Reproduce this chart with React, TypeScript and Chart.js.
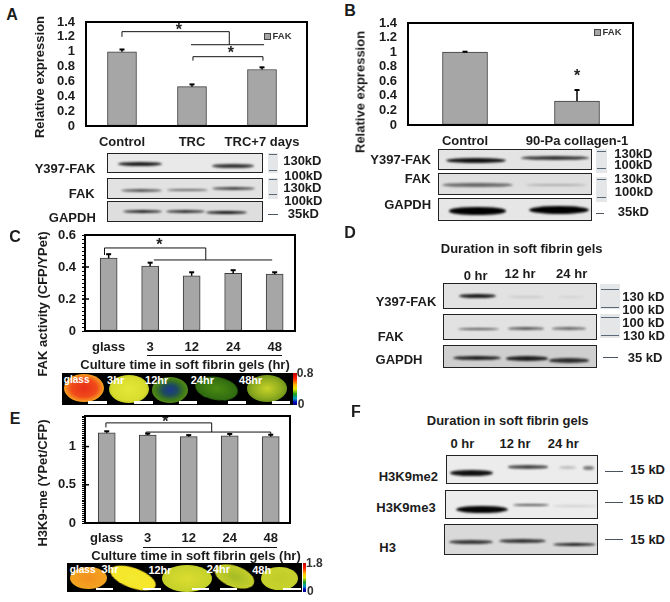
import React, { useEffect, useRef } from "react";
import { Chart, registerables } from "chart.js";

Chart.register(...registerables);

const FONT = '"Liberation Sans", Arial, sans-serif';
const INK = "#1c1c1c";

// ---------- values ----------
const catA = ["Control", "TRC", "TRC+7 days"];
const valA = [1.0, 0.53, 0.76];
const errA = [0.03, 0.03, 0.03];

const catB = ["Control", "90-Pa collagen-1"];
const valB = [1.0, 0.33];
const errB = [0.006, 0.15];

const catC = ["glass", "3", "12", "24", "48"];
const valC = [0.455, 0.405, 0.345, 0.36, 0.355];
const errC = [0.025, 0.022, 0.022, 0.02, 0.012];

const catE = ["glass", "3", "12", "24", "48"];
const valE = [1.18, 1.15, 1.13, 1.14, 1.13];
const errE = [0.02, 0.02, 0.02, 0.025, 0.025];

type Pt = [number, number];
type ChartSpec = {
  cats: string[]; vals: number[]; errs: number[];
  xMin: number; xMax: number; yMax: number; step: number; major: number; minor: boolean;
  left: number; right: number; top: number; bottom: number; barW: number;
  tickPad: number; catPad: number; lines: Pt[][]; stars: Pt[];
};

const specs: ChartSpec[] = [
  {
    cats: catA, vals: valA, errs: errA, xMin: -0.514, xMax: 2.643, yMax: 1.4, step: 0.2, major: 0.2, minor: false,
    left: 86, right: 307, top: 22, bottom: 126, barW: 29, tickPad: 11, catPad: 9,
    lines: [
      [[0, 1.2], [0, 1.27], [1.533, 1.27], [1.533, 1.094]],
      [[0.986, 1.094], [2.03, 1.094]],
      [[1.014, 0.88], [1.014, 0.933], [2.014, 0.933], [2.014, 0.88]],
    ],
    stars: [[0.814, 1.32], [1.557, 1.01]],
  },
  {
    cats: catB, vals: valB, errs: errB, xMin: -0.509, xMax: 1.5, yMax: 1.4, step: 0.2, major: 0.2, minor: false,
    left: 408, right: 633, top: 23, bottom: 125, barW: 45, tickPad: 11, catPad: 9,
    lines: [], stars: [[1.0, 0.7]],
  },
  {
    cats: catC, vals: valC, errs: errC, xMin: -0.57, xMax: 4.49, yMax: 0.6, step: 0.025, major: 0.2, minor: true,
    left: 85, right: 295, top: 235, bottom: 331, barW: 17, tickPad: 6, catPad: 9,
    lines: [
      [[-0.1, 0.475], [-0.1, 0.519], [2.34, 0.519], [2.34, 0.444]],
      [[1.09, 0.444], [3.94, 0.444]],
    ],
    stars: [[1.22, 0.55]],
  },
  {
    cats: catE, vals: valE, errs: errE, xMin: -0.53, xMax: 4.47, yMax: 1.4, step: 0.025, major: 0.5, minor: true,
    left: 85, right: 290, top: 416, bottom: 523, barW: 17, tickPad: 6, catPad: 8,
    lines: [
      [[-0.02, 1.25], [-0.02, 1.31], [2.56, 1.31], [2.56, 1.19]],
      [[0.96, 1.16], [0.96, 1.19], [4.0, 1.19], [4.0, 1.16]],
    ],
    stars: [[1.43, 1.35]],
  },
];

// ---------- blot and micrograph panels, in 3x-crop coordinates ----------
type Band = [number, number, number, number, string];
type Box = { r: [number, number, number, number]; bg: string; bands: Band[] };
type Label = [string, number, number];
type Panel = {
  ox: number; oy: number; boxes: Box[];
  ladders: { r: [number, number, number, number]; ys: number[] }[];
  dashes: [number, number, number][];
  labels: Label[];
};

const panels: Panel[] = [
  {
    ox: 0, oy: 0,
    boxes: [
      { r: [320, 458, 790, 518], bg: "#e9e9e9", bands: [[350, 482, 488, 12, "#1a1a1a"], [632, 758, 495, 14, "#333"]] },
      { r: [320, 533, 790, 597], bg: "#e2e2e2", bands: [[360, 482, 570, 9, "#555"], [498, 622, 567, 8, "#666"], [632, 762, 563, 10, "#444"]] },
      { r: [320, 603, 790, 665], bg: "#dedede", bands: [[365, 482, 632, 9, "#222"], [495, 612, 632, 9, "#2a2a2a"], [615, 738, 635, 11, "#151515"]] },
    ],
    ladders: [
      { r: [805, 458, 835, 518], ys: [462, 510] },
      { r: [805, 533, 835, 597], ys: [538, 582] },
    ],
    dashes: [[805, 835, 642]],
    labels: [
      ["Y397-FAK", 195, 503], ["FAK", 245, 580], ["GAPDH", 217, 652],
      ["130kD", 907, 480], ["100kD", 910, 525], ["130kD", 907, 560], ["100kD", 910, 600], ["35kD", 910, 640],
    ],
  },
  {
    ox: 335, oy: 0,
    boxes: [
      { r: [310, 447, 772, 510], bg: "#e4e4e4", bands: [[330, 510, 478, 16, "#111"], [555, 760, 472, 12, "#333"]] },
      { r: [310, 520, 772, 585], bg: "#dfdfdf", bands: [[318, 530, 552, 14, "#666"], [570, 750, 552, 6, "#aaa"]] },
      { r: [310, 595, 772, 662], bg: "#e6e6e6", bands: [[340, 510, 630, 22, "#000"], [580, 760, 627, 24, "#000"]] },
    ],
    ladders: [
      { r: [782, 447, 815, 520], ys: [452, 505] },
      { r: [782, 530, 815, 605], ys: [537, 590] },
    ],
    dashes: [[782, 808, 640]],
    labels: [
      ["Y397-FAK", 197, 477], ["FAK", 248, 535], ["GAPDH", 218, 613],
      ["130kD", 895, 458], ["100kD", 895, 493], ["130kD", 895, 533], ["100kD", 897, 573], ["35kD", 895, 633],
    ],
  },
  {
    ox: 335, oy: 220,
    boxes: [
      { r: [323, 188, 785, 268], bg: "#e2e2e2", bands: [[368, 480, 226, 13, "#1a1a1a"], [515, 625, 229, 6, "#c8c8c8"], [665, 740, 229, 6, "#d2d2d2"]] },
      { r: [323, 283, 785, 360], bg: "#e2e2e2", bands: [[365, 490, 323, 6, "#555"], [515, 625, 323, 8, "#555"], [648, 750, 323, 8, "#666"]] },
      { r: [323, 375, 785, 445], bg: "#cfcfcf", bands: [[352, 495, 410, 12, "#1c1c1c"], [510, 635, 412, 14, "#1c1c1c"], [640, 760, 418, 14, "#2a2a2a"]] },
    ],
    ladders: [
      { r: [795, 193, 855, 268], ys: [208, 262] },
      { r: [795, 283, 855, 355], ys: [292, 345] },
    ],
    dashes: [[805, 850, 410]],
    labels: [
      ["Duration in soft fibrin gels", 560, 85],
      ["0 hr", 422, 165], ["12 hr", 555, 160], ["24 hr", 710, 158],
      ["Y397-FAK", 213, 243], ["FAK", 167, 347], ["GAPDH", 192, 417],
      ["130 kD", 925, 227], ["100 kD", 925, 268], ["100 kD", 925, 307], ["130 kD", 927, 344], ["35 kD", 930, 410],
    ],
  },
  {
    ox: 335, oy: 400,
    boxes: [
      { r: [332, 165, 790, 253], bg: "#ececec", bands: [[342, 472, 215, 18, "#111"], [515, 635, 198, 10, "#444"], [670, 720, 200, 8, "#bbb"], [740, 775, 200, 12, "#777"]] },
      { r: [330, 271, 790, 358], bg: "#ececec", bands: [[360, 515, 325, 22, "#050505"], [530, 640, 312, 8, "#555"], [650, 780, 315, 4, "#cfcfcf"]] },
      { r: [328, 373, 790, 465], bg: "#d9d9d9", bands: [[338, 470, 422, 12, "#333"], [490, 630, 420, 12, "#333"], [650, 780, 430, 10, "#1f1f1f"]] },
    ],
    ladders: [],
    dashes: [[810, 865, 213], [810, 865, 305], [810, 865, 418]],
    labels: [
      ["Duration in soft fibrin gels", 518, 60],
      ["0 hr", 382, 130], ["12 hr", 540, 130], ["24 hr", 685, 130],
      ["H3K9me2", 220, 227], ["H3K9me3", 213, 322], ["H3", 158, 440],
      ["15 kD", 938, 207], ["15 kD", 935, 297], ["15 kD", 938, 418],
    ],
  },
];

type Blob = { c: [number, number]; rx: number; ry: number; rot: number; grad: string };
const strips: {
  oy: number; r: [number, number, number, number]; cb: [number, number]; blobs: Blob[];
  caps: Label[]; bars: [number, number][]; barY: number; barH: number; top: string;
}[] = [
  {
    oy: 220, r: [187, 460, 878, 555], cb: [880, 891], top: "0.8", barY: 544, barH: 8,
    blobs: [
      { c: [253, 505], rx: 60, ry: 42, rot: 0, grad: "radial-gradient(#e8301a 0%, #f04a1a 45%, #f7a020 70%, #f2e63a 92%)" },
      { c: [387, 507], rx: 60, ry: 42, rot: 0, grad: "radial-gradient(#e4e83a 0%, #d8dc2c 60%, #a6b81e 90%)" },
      { c: [510, 510], rx: 55, ry: 40, rot: 0, grad: "radial-gradient(#1c3a8a 0%, #1e4a60 28%, #3f7a18 55%, #6a9a1c 90%)" },
      { c: [650, 505], rx: 65, ry: 35, rot: 10, grad: "radial-gradient(#4a8a12 0%, #2f6a10 70%, #1e4c0a 95%)" },
      { c: [800, 505], rx: 60, ry: 40, rot: 0, grad: "radial-gradient(#c8d428 0%, #8aa81e 55%, #4a7a14 92%)" },
    ],
    caps: [["glass", 230, 480], ["3hr", 347, 480], ["12hr", 470, 480], ["24hr", 607, 480], ["48hr", 752, 480]],
    bars: [[265, 322], [402, 458], [538, 592], [683, 738], [815, 870]],
  },
  {
    oy: 400, r: [200, 490, 905, 575], cb: [908, 919], top: "1.8", barY: 563, barH: 7,
    blobs: [
      { c: [265, 535], rx: 55, ry: 33, rot: 0, grad: "radial-gradient(#f2901e 0%, #f4a020 60%, #e8a81c 92%)" },
      { c: [400, 535], rx: 72, ry: 30, rot: 20, grad: "radial-gradient(#f4ea30 0%, #f6e628 65%, #f0b020 95%)" },
      { c: [560, 535], rx: 75, ry: 40, rot: 0, grad: "radial-gradient(#dcdc30 0%, #c6d22a 65%, #a8c024 95%)" },
      { c: [705, 530], rx: 62, ry: 32, rot: 20, grad: "radial-gradient(#a4bc24 0%, #c0cc2a 60%, #dcdc32 95%)" },
      { c: [838, 535], rx: 55, ry: 35, rot: 0, grad: "radial-gradient(#c0cc2a 0%, #c8d22c 60%, #a8c024 95%)" },
    ],
    caps: [["glass", 248, 510], ["3hr", 330, 508], ["12hr", 480, 510], ["24hr", 655, 506], ["48h", 785, 510]],
    bars: [[288, 338], [430, 482], [575, 628], [660, 710], [850, 902]],
  },
];

// Free text in page pixels: text, centre x, centre y
const pageLabels: Label[] = [
  ["A", 12, 15], ["B", 350, 11], ["C", 15, 237], ["D", 350, 233], ["E", 15, 419], ["F", 356, 412],
  ["Culture time in soft fibrin gels (hr)", 185, 364],
  ["Culture time in soft fibrin gels (hr)", 196, 555],
];
const axisTitles: Label[] = [
  ["Relative expression", 39, 77],
  ["Relative expression", 360, 92],
  ["FAK activity (CFP/YPet)", 42, 304],
  ["H3K9-me (YPet/CFP)", 42, 483],
];
const underlines: [number, number, number][] = [[147, 282, 355], [143, 277, 547]];
const legends: [number, number][] = [[267, 36], [597, 32]];

function BarPanel({ spec }: { spec: ChartSpec }) {
  const ref = useRef<HTMLCanvasElement>(null);
  const cLeft = spec.left - 44;
  const cTop = spec.top - 20;
  const xAxisH = 30;
  const padRight = 12;
  const w = spec.right + padRight - cLeft;
  const h = spec.bottom + xAxisH - cTop;

  useEffect(() => {
    const overlay = {
      id: "overlay",
      afterDatasetsDraw(chart: any) {
        const { ctx, chartArea: a, scales: { x, y } } = chart;
        ctx.save();
        ctx.strokeStyle = "#000";
        ctx.fillStyle = "#000";
        // error bars
        spec.vals.forEach((v, i) => {
          const px = x.getPixelForValue(i);
          const y0 = y.getPixelForValue(v);
          const y1 = y.getPixelForValue(v + spec.errs[i]);
          ctx.lineWidth = 1.5;
          ctx.beginPath(); ctx.moveTo(px, y0); ctx.lineTo(px, y1); ctx.stroke();
          ctx.lineWidth = 2;
          ctx.beginPath(); ctx.moveTo(px - 2.5, y1); ctx.lineTo(px + 2.5, y1); ctx.stroke();
        });
        // significance brackets
        ctx.lineWidth = 1;
        ctx.strokeStyle = "#111";
        spec.lines.forEach((line) => {
          ctx.beginPath();
          line.forEach(([lx, ly], i) => {
            const px = x.getPixelForValue(lx);
            const py = y.getPixelForValue(ly);
            if (i === 0) ctx.moveTo(px, py); else ctx.lineTo(px, py);
          });
          ctx.stroke();
        });
        ctx.font = `bold 16px ${FONT}`;
        ctx.fillStyle = "#222";
        ctx.textAlign = "center";
        ctx.textBaseline = "middle";
        spec.stars.forEach(([sx, sy]) => ctx.fillText("*", x.getPixelForValue(sx), y.getPixelForValue(sy) + 3));
        // frame
        ctx.strokeStyle = "#000";
        ctx.lineWidth = 2;
        ctx.strokeRect(a.left, a.top, a.right - a.left, a.bottom - a.top);
        // major ticks crossing the frame
        if (spec.minor) {
          ctx.lineWidth = 1.5;
          for (let v = spec.major; v < spec.yMax - 0.001; v += spec.major) {
            const py = y.getPixelForValue(v);
            ctx.beginPath(); ctx.moveTo(a.left - 3, py); ctx.lineTo(a.left + 4, py); ctx.stroke();
          }
        }
        ctx.restore();
      },
    };
    const isMajor = (v: number) => Math.abs(v / spec.major - Math.round(v / spec.major)) < 1e-6;
    const padding = { top: spec.top - cTop, right: padRight, left: 0, bottom: 0 };
    const chart = new Chart(ref.current!, {
      type: "bar",
      data: {
        datasets: [{
          label: "FAK",
          data: spec.vals.map((v, i) => ({ x: i, y: v })),
          backgroundColor: "#a6a6a6",
          borderColor: "#3c3c3c",
          borderWidth: 1,
          borderSkipped: false,
          barThickness: spec.barW,
        }],
      },
      options: {
        responsive: false,
        animation: false,
        events: [],
        layout: { padding },
        plugins: { legend: { display: false }, tooltip: { enabled: false } },
        scales: {
          x: {
            type: "linear",
            offset: false,
            min: spec.xMin,
            max: spec.xMax,
            afterBuildTicks: (s: any) => { s.ticks = spec.cats.map((_, i) => ({ value: i })); },
            afterFit: (s: any) => { s.height = xAxisH; },
            grid: { display: false, offset: false, drawTicks: false },
            border: { display: false },
            ticks: {
              autoSkip: false, maxRotation: 0, padding: spec.catPad, color: INK,
              font: { family: FONT, size: 13, weight: "bold" },
              callback: (v: any) => spec.cats[v] ?? "",
            },
          },
          y: {
            min: 0,
            max: spec.yMax,
            afterFit: (s: any) => { s.width = 44; },
            border: { display: false },
            grid: { drawOnChartArea: false, drawTicks: spec.minor, tickLength: 3, tickColor: "#000", tickWidth: 1 },
            ticks: {
              stepSize: spec.step, autoSkip: false, padding: spec.tickPad, color: INK,
              font: { family: FONT, size: 13, weight: "bold" },
              callback: (v: any) => (isMajor(v) ? String(+Number(v).toFixed(2)) : ""),
            },
          },
        },
      } as any,
      plugins: [overlay],
    });
    // Settle the plot box on the frame position.
    for (let i = 0; i < 3; i++) {
      const a = chart.chartArea;
      const dTop = a.top - (spec.top - cTop);
      const dBottom = a.bottom - (spec.bottom - cTop);
      const dRight = a.right - (spec.right - cLeft);
      if (!dTop && !dBottom && !dRight) break;
      padding.top = Math.max(0, padding.top - dTop);
      padding.bottom = Math.max(0, padding.bottom + dBottom);
      padding.right = Math.max(0, padding.right + dRight);
      chart.options.layout!.padding = { ...padding };
      chart.update();
    }
    return () => chart.destroy();
  }, []);

  return <canvas ref={ref} width={w} height={h} style={{ position: "absolute", left: cLeft, top: cTop, width: w, height: h }} />;
}

const textStyle = (x: number, y: number, size = 13, color = INK, rot = 0): React.CSSProperties => ({
  position: "absolute", left: x, top: y,
  transform: `translate(-50%,-50%)${rot ? ` rotate(${rot}deg)` : ""}`,
  font: `bold ${size}px ${FONT}`, color, whiteSpace: "nowrap", lineHeight: 1,
});

const abs = (l: number, t: number, w: number, h: number, extra: React.CSSProperties = {}): React.CSSProperties => ({
  position: "absolute", left: l, top: t, width: w, height: h, ...extra,
});

function BlotPanel({ p }: { p: Panel }) {
  const X = (v: number) => p.ox + v / 3;
  const Y = (v: number) => p.oy + v / 3;
  return (
    <>
      {p.boxes.map((b, i) => (
        <div key={i} style={abs(X(b.r[0]), Y(b.r[1]), (b.r[2] - b.r[0]) / 3, (b.r[3] - b.r[1]) / 3, { background: b.bg, border: "1px solid #222", boxSizing: "border-box", overflow: "hidden" })}>
          {b.bands.map((d, j) => (
            <div key={j} style={abs((d[0] - b.r[0]) / 3, (d[2] - d[3] / 2 - b.r[1]) / 3, (d[1] - d[0]) / 3, d[3] / 3, { background: d[4], borderRadius: "50%", filter: "blur(0.8px)" })} />
          ))}
        </div>
      ))}
      {p.ladders.map((l, i) => (
        <div key={i} style={abs(X(l.r[0]), Y(l.r[1]), (l.r[2] - l.r[0]) / 3, (l.r[3] - l.r[1]) / 3, { background: "#e4e6e8" })}>
          {l.ys.map((y, j) => (
            <div key={j} style={abs(1, (y - l.r[1]) / 3, (l.r[2] - l.r[0]) / 3 - 2, 1, { background: "#5a6a78" })} />
          ))}
        </div>
      ))}
      {p.dashes.map((d, i) => (
        <div key={i} style={abs(X(d[0]), Y(d[2]), (d[1] - d[0]) / 3, 1, { background: "#4a5560" })} />
      ))}
      {p.labels.map((l, i) => (
        <span key={i} style={textStyle(X(l[1]), Y(l[2]))}>{l[0]}</span>
      ))}
    </>
  );
}

function Strip({ s }: { s: (typeof strips)[number] }) {
  const X = (v: number) => v / 3;
  const Y = (v: number) => s.oy + v / 3;
  const [x1, y1, x2, y2] = s.r;
  return (
    <>
      <div style={abs(X(x1), Y(y1), (x2 - x1) / 3, (y2 - y1) / 3, { background: "#000" })} />
      {s.blobs.map((b, i) => (
        <div key={i} style={abs(X(b.c[0] - b.rx), Y(b.c[1] - b.ry), (2 * b.rx) / 3, (2 * b.ry) / 3, { background: b.grad, borderRadius: "50%", transform: `rotate(${b.rot}deg)`, filter: "blur(0.6px)" })} />
      ))}
      {s.bars.map((b, i) => (
        <div key={i} style={abs(X(b[0]), Y(s.barY), (b[1] - b[0]) / 3, s.barH / 3, { background: "#fff" })} />
      ))}
      {s.caps.map((c, i) => (
        <span key={i} style={textStyle(X(c[1]), Y(c[2]), c[0] === "glass" ? 10 : 11, "#fff")}>{c[0]}</span>
      ))}
      <div style={abs(X(s.cb[0]), Y(y1), (s.cb[1] - s.cb[0]) / 3, (y2 - y1) / 3, { background: "linear-gradient(#c00000, #ff2000 18%, #ffc000 38%, #e8e800 50%, #20a020 66%, #00a0c0 80%, #0000c0 92%, #000080)" })} />
      <span style={textStyle(X(s.cb[1]) + 8, Y(y1) + 0, 12, "#333")}>{s.top}</span>
      <span style={textStyle(X(s.cb[1]) + 4, Y(y2) - 1, 12, "#333")}>0</span>
    </>
  );
}

export default function App() {
  return (
    <div style={{ position: "absolute", left: 0, top: 0, width: 670, height: 602, background: "#fff", overflow: "hidden" }}>
      {specs.map((s, i) => <BarPanel key={i} spec={s} />)}
      {panels.map((p, i) => <BlotPanel key={i} p={p} />)}
      {strips.map((s, i) => <Strip key={i} s={s} />)}
      {pageLabels.map((l, i) => (
        <span key={i} style={textStyle(l[1], l[2], l[0].length === 1 ? 16 : 13)}>{l[0]}</span>
      ))}
      {axisTitles.map((l, i) => (
        <span key={i} style={textStyle(l[1], l[2], 13, INK, -90)}>{l[0]}</span>
      ))}
      {underlines.map((u, i) => (
        <div key={i} style={abs(u[0], u[2], u[1] - u[0], 1, { background: "#111" })} />
      ))}
      {legends.map((g, i) => (
        <React.Fragment key={i}>
          <div style={abs(g[0] - 3, g[1] - 3, 7, 7, { background: "#a6a6a6", border: "1px solid #444", boxSizing: "border-box" })} />
          <span style={{ ...textStyle(g[0] + 15, g[1], 9.5, "#333") }}>FAK</span>
        </React.Fragment>
      ))}
    </div>
  );
}
